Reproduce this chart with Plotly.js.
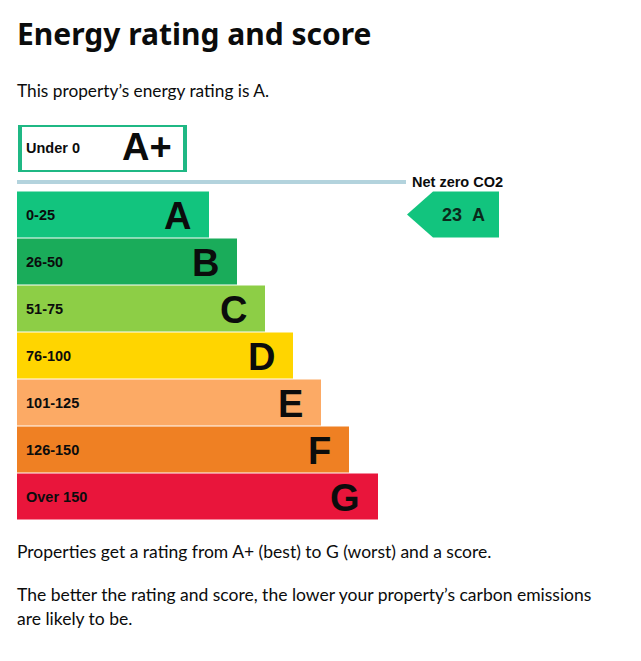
<!DOCTYPE html>
<html><head><meta charset="utf-8">
<script src="https://cdn.plot.ly/plotly-3.0.1.min.js"></script>
<style>html,body{margin:0;padding:0;background:#fff;overflow:hidden}</style>
</head><body><div id="chart" style="width:641px;height:661px"></div>
<script>
// ---- data ----
const ratings = ['A', 'B', 'C', 'D', 'E', 'F', 'G'];
const scoreRanges = ['0-25', '26-50', '51-75', '76-100', '101-125', '126-150', 'Over 150'];
const barLengths = [192, 220, 248, 276, 304, 332, 361];
const barColors = ['#12c47e', '#1aac5a', '#8dce46', '#ffd500', '#fcaa65', '#ef8023', '#e9153b'];
const topRating = 'A+';
const topRange = 'Under 0';
const topBarLength = [165];
const currentScore = 23;
const currentRating = 'A';
const netZeroLabel = 'Net zero CO2';
const titleText = 'Energy rating and score';
const introText = 'This property\u2019s energy rating is A.';
const footLines = [
  'Properties get a rating from A+ (best) to G (worst) and a score.',
  'The better the rating and score, the lower your property\u2019s carbon emissions',
  'are likely to be.'
];

// ---- layout helpers ----
const W = 641, H = 661;
const py = y => (H - y) / H;
const px = x => x / W;
const dark = '#0b0c0c';
const barFont = 'Liberation Sans, Arial, sans-serif';
const textFont = 'Lato, sans-serif';
const smallSize = 14.5;
const bigSize = 38;

const rowIdx = ratings.map((_, i) => i);
const cur = ratings.indexOf(currentRating);

const traces = [
  {
    type: 'bar', orientation: 'h', x: barLengths, y: rowIdx,
    marker: {color: barColors, line: {width: 0}}, width: 46 / 47,
    xaxis: 'x', yaxis: 'y', hoverinfo: 'skip', showlegend: false
  },
  {
    type: 'bar', orientation: 'h', x: topBarLength, y: [0], base: 3,
    marker: {color: '#ffffff', line: {color: '#1fb884', width: 4}}, width: 1,
    xaxis: 'x', yaxis: 'y2', hoverinfo: 'skip', showlegend: false
  }
];

const annotations = [];
scoreRanges.forEach((r, i) => annotations.push({
  xref: 'x', yref: 'y', x: 7, y: i, text: r, showarrow: false, xanchor: 'left', yanchor: 'middle',
  font: {family: barFont, size: smallSize, weight: 700, color: dark}
}));
ratings.forEach((r, i) => annotations.push({
  xref: 'x', yref: 'y', x: barLengths[i] - 16, y: i + 0.03, text: r, showarrow: false, xanchor: 'right', yanchor: 'middle',
  font: {family: barFont, size: bigSize, weight: 700, color: dark}
}));
annotations.push({
  xref: 'x', yref: 'y2', x: 7, y: 0, text: topRange, showarrow: false, xanchor: 'left', yanchor: 'middle',
  font: {family: barFont, size: smallSize, weight: 700, color: dark}
});
annotations.push({
  xref: 'x', yref: 'y2', x: 157, y: 0.03, text: topRating, showarrow: false, xanchor: 'right', yanchor: 'middle',
  font: {family: barFont, size: bigSize, weight: 700, color: dark}
});
annotations.push({
  xref: 'x', yref: 'paper', x: 393, y: py(182), text: netZeroLabel, showarrow: false, xanchor: 'left', yanchor: 'middle',
  font: {family: barFont, size: smallSize, weight: 700, color: dark}
});
annotations.push({
  xref: 'x', yref: 'y', x: 446, y: cur, text: currentScore + '&nbsp;&nbsp;' + currentRating, showarrow: false,
  xanchor: 'center', yanchor: 'middle',
  font: {family: barFont, size: 18, weight: 700, color: '#0b2a1c'}
});
annotations.push({
  xref: 'paper', yref: 'paper', x: px(15), y: py(33), text: titleText, showarrow: false, xanchor: 'left', yanchor: 'middle',
  font: {family: 'Noto Sans, sans-serif', size: 30, weight: 700, color: dark}
});
annotations.push({
  xref: 'paper', yref: 'paper', x: px(15), y: py(90), text: introText, showarrow: false, xanchor: 'left', yanchor: 'middle',
  font: {family: textFont, size: 17.3, color: dark}
});
const footY = [551, 594, 618];
footLines.forEach((t, i) => annotations.push({
  xref: 'paper', yref: 'paper', x: px(15), y: py(footY[i]), text: t, showarrow: false, xanchor: 'left', yanchor: 'middle',
  font: {family: textFont, size: 17.5, color: dark}
}));

const half = 23 / 47;
const arrowPath = `M 390 ${cur} L 416 ${cur - half} L 482 ${cur - half} L 482 ${cur + half} L 416 ${cur + half} Z`;

const layout = {
  width: W, height: H,
  margin: {l: 0, r: 0, t: 0, b: 0, pad: 0},
  paper_bgcolor: '#ffffff', plot_bgcolor: 'rgba(0,0,0,0)',
  showlegend: false,
  xaxis: {domain: [px(17), 1], range: [0, 624], visible: false, fixedrange: true, anchor: 'y'},
  yaxis: {domain: [py(520), py(191)], range: [6.5, -0.5], visible: false, fixedrange: true, anchor: 'x'},
  yaxis2: {domain: [py(172), py(125)], range: [-0.5, 0.5], visible: false, fixedrange: true, anchor: 'x'},
  shapes: [
    {type: 'line', xref: 'x', yref: 'paper', x0: 0, x1: 389, y0: py(182), y1: py(182),
     line: {color: '#b3d3dd', width: 4}},
    {type: 'path', xref: 'x', yref: 'y', path: arrowPath, fillcolor: barColors[cur], line: {width: 0}}
  ],
  annotations: annotations
};

Plotly.newPlot('chart', traces, layout, {displayModeBar: false, staticPlot: true});
</script></body></html>
